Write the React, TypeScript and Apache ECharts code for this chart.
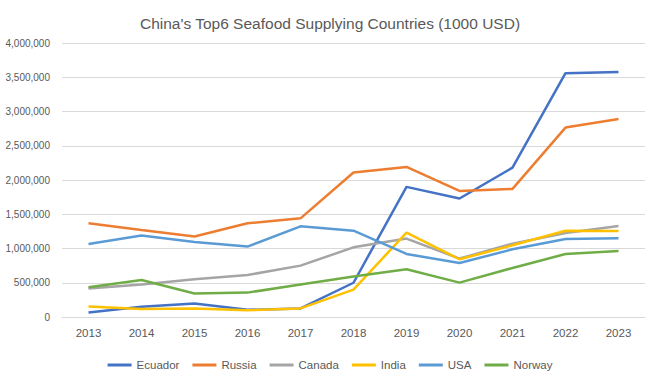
import React, { useEffect, useRef } from "react";
import * as echarts from "echarts";

const years = ["2013", "2014", "2015", "2016", "2017", "2018", "2019", "2020", "2021", "2022", "2023"];
const ecuador = [65000, 150000, 196000, 105000, 125000, 500000, 1900000, 1730000, 2180000, 3560000, 3575000];
const russia = [1368000, 1270000, 1174000, 1368000, 1440000, 2110000, 2190000, 1840000, 1870000, 2765000, 2890000];
const canada = [415000, 473000, 550000, 613000, 750000, 1017000, 1145000, 853000, 1070000, 1226000, 1330000];
const india = [152000, 117000, 125000, 98000, 125000, 400000, 1232000, 843000, 1047000, 1260000, 1255000];
const usa = [1066000, 1190000, 1095000, 1028000, 1324000, 1260000, 920000, 788000, 988000, 1139000, 1150000];
const norway = [433000, 540000, 342000, 356000, 473000, 590000, 697000, 502000, 716000, 920000, 964000];

const seriesDefs = [
  { name: "Ecuador", data: ecuador, color: "#4472C4" },
  { name: "Russia", data: russia, color: "#ED7D31" },
  { name: "Canada", data: canada, color: "#A5A5A5" },
  { name: "India", data: india, color: "#FFC000" },
  { name: "USA", data: usa, color: "#5B9BD5" },
  { name: "Norway", data: norway, color: "#70AD47" },
];

const FONT = "'Liberation Sans', Arial, sans-serif";

export default function App() {
  const ref = useRef<HTMLDivElement>(null);
  useEffect(() => {
    if (!ref.current) return;
    const chart = echarts.init(ref.current, undefined, { renderer: "svg" });
    chart.setOption({
      animation: false,
      backgroundColor: "#ffffff",
      color: seriesDefs.map((s) => s.color),
      title: {
        text: "China's Top6 Seafood Supplying Countries (1000 USD)",
        left: "center",
        top: 10,
        textStyle: { fontFamily: FONT, fontSize: 15.5, fontWeight: "normal", color: "#595959" },
      },
      grid: { left: 62, right: 15, top: 43, bottom: 62 },
      legend: {
        top: 354,
        left: "center",
        itemWidth: 24,
        itemHeight: 3,
        itemGap: 13,
        icon: "rect",
        textStyle: { fontFamily: FONT, fontSize: 11.5, color: "#595959" },
        data: seriesDefs.map((s) => s.name),
      },
      xAxis: {
        type: "category",
        data: years,
        boundaryGap: true,
        axisLine: { show: true, lineStyle: { color: "#d9d9d9" } },
        axisTick: { show: false },
        axisLabel: { fontFamily: FONT, fontSize: 11.5, color: "#595959", margin: 10 },
      },
      yAxis: {
        type: "value",
        min: 0,
        max: 4000000,
        interval: 500000,
        axisLine: { show: false },
        axisTick: { show: false },
        splitLine: { lineStyle: { color: "#d9d9d9" } },
        axisLabel: {
          fontFamily: FONT,
          fontSize: 10,
          color: "#595959",
          margin: 12,
          formatter: (v: number) => v.toLocaleString("en-US"),
        },
      },
      series: seriesDefs.map((s) => ({
        name: s.name,
        type: "line",
        data: s.data,
        showSymbol: false,
        symbol: "none",
        lineStyle: { width: 2.5, color: s.color },
        itemStyle: { color: s.color },
      })),
    });
    return () => chart.dispose();
  }, []);
  return <div ref={ref} style={{ width: 660, height: 379, position: "absolute", left: 0, top: 0 }} />;
}
